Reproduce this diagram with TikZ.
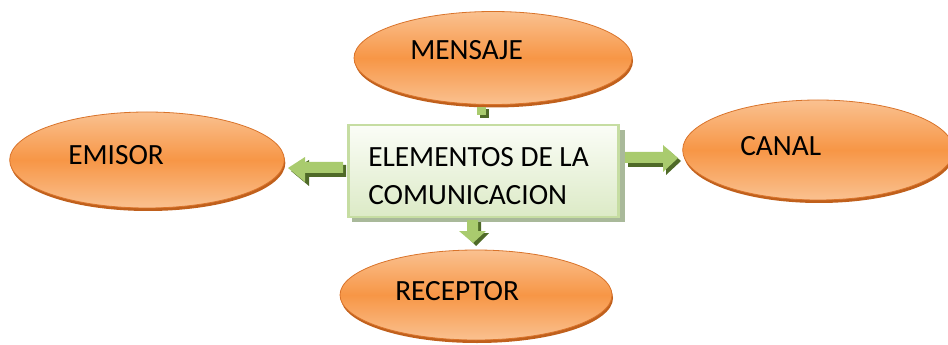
\documentclass[tikz,border=0pt]{standalone}
\usepackage{fontspec}
\setmainfont{Carlito}
\usetikzlibrary{shapes.geometric,calc}
\definecolor{orlight}{HTML}{FAC190}
\definecolor{ormid}{HTML}{F79646}
\definecolor{orrim}{HTML}{D9732A}
\definecolor{orshadow}{HTML}{C0601C}
\definecolor{grlight}{HTML}{FBFDF7}
\definecolor{grbot}{HTML}{DCEAC6}
\definecolor{grborder}{HTML}{C6DDA2}
\definecolor{grshadow}{HTML}{A9B99A}
\definecolor{arlight}{HTML}{A9CB6E}
\definecolor{ardark}{HTML}{7FA144}
\definecolor{arshadow}{HTML}{4F6A28}
\tikzset{
  oval/.style={ellipse, draw=orrim, line width=0.6pt, top color=orlight, bottom color=orlight, middle color=ormid, inner sep=0pt},
  ovalshadow/.style={ellipse, fill=orshadow, inner sep=0pt},
  lbl/.style={font=\fontsize{22}{26}\selectfont, inner sep=0pt, anchor=west},
  blockarrow/.style={fill=arlight, draw=none},
  blockshadow/.style={fill=arshadow, draw=none},
}
\begin{document}
\begin{tikzpicture}[x=0.75pt,y=-0.75pt]
\useasboundingbox (0,0) rectangle (948,345);
% shadows of ellipses
\node[ovalshadow, minimum width=208.5pt, minimum height=69.75pt] at (494,61) {};
\node[ovalshadow, minimum width=206pt, minimum height=72pt] at (148,163) {};
\node[ovalshadow, minimum width=203pt, minimum height=75pt] at (819,153) {};
\node[ovalshadow, minimum width=204pt, minimum height=67.5pt] at (477,298) {};
% ellipses
\node[oval, minimum width=208.5pt, minimum height=69.75pt] (mensaje) at (493,58) {};
\node[oval, minimum width=206pt, minimum height=72pt] (emisor) at (147,160) {};
\node[oval, minimum width=203pt, minimum height=75pt] (canal) at (818,150) {};
\node[oval, minimum width=204pt, minimum height=67.5pt] (receptor) at (476,295) {};
% labels
\node[lbl] (tmensaje) at (410,50) {MENSAJE};
\node[lbl] (temisor) at (68,155) {EMISOR};
\node[lbl] (tcanal) at (740,146) {CANAL};
\node[lbl] (treceptor) at (395,291) {RECEPTOR};
% central box
\fill[grshadow] (352,130) rectangle (625,222);
\node[draw=grborder, line width=2.2pt, top color=grlight, bottom color=grbot, minimum width=202.5pt, minimum height=69pt, inner sep=0pt] (box) at (483.5,171) {};
\node[lbl, align=left, font=\fontsize{22}{29}\selectfont] (tbox) at (368,176) {ELEMENTOS DE LA\\COMUNICACION};
% up stub (to MENSAJE)
\fill[arshadow] (480,109) rectangle (489,118);
\fill[arlight] (477,107) rectangle (486,115);
% left arrow (to EMISOR)
\fill[blockshadow] (346,165) -- (309,165) -- (309,160) -- (291,171) -- (309,186) -- (309,177) -- (346,177) -- cycle;
\fill[blockarrow] (343,162) -- (305,162) -- (305,157) -- (288,168) -- (305,182) -- (305,173) -- (343,173) -- cycle;
% right arrow (to CANAL)
\fill[blockshadow] (628,156) -- (666,156) -- (666,148) -- (681,161) -- (666,175) -- (666,167) -- (628,167) -- cycle;
\fill[blockarrow] (625,152) -- (663,152) -- (663,145) -- (678,158) -- (663,172) -- (663,163) -- (625,163) -- cycle;
% down arrow (to RECEPTOR)
\fill[blockshadow] (470,222) -- (481,222) -- (481,233) -- (489,233) -- (476,246) -- (463,233) -- (470,233) -- cycle;
\fill[blockarrow] (467,220) -- (478,220) -- (478,231) -- (486,231) -- (473,243) -- (459,231) -- (467,231) -- cycle;
\end{tikzpicture}
\end{document}
